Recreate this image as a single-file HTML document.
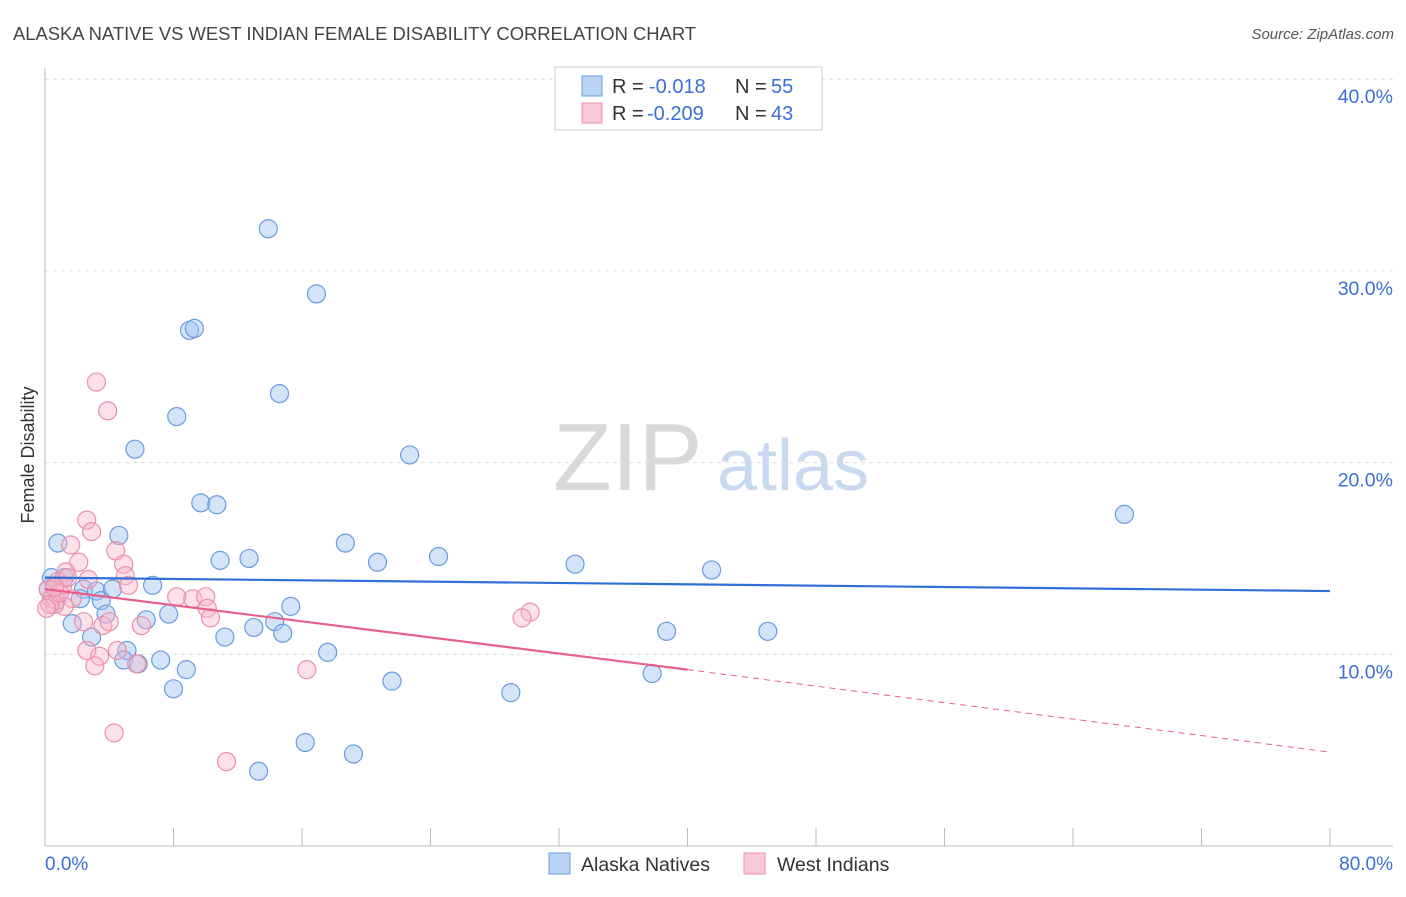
<!DOCTYPE html>
<html><head><meta charset="utf-8"><style>
body{margin:0;background:#fff;font-family:"Liberation Sans",sans-serif;}
svg text{font-family:"Liberation Sans",sans-serif;}
</style></head><body>
<svg id="chart" width="1406" height="892" xmlns="http://www.w3.org/2000/svg">
<text x="13" y="40" font-size="18.4" fill="#444">ALASKA NATIVE VS WEST INDIAN FEMALE DISABILITY CORRELATION CHART</text>
<text x="1394" y="39" font-size="15" fill="#555" font-style="italic" text-anchor="end">Source: ZipAtlas.com</text>
<g>
<text x="553" y="490" font-size="96" fill="#d9d9d9" font-family="Liberation Serif, serif">ZIP</text>
<text x="717" y="490" font-size="72" fill="#c9d9f0">atlas</text>
</g>
<g id="grid"></g>
<g id="axes"></g>
<g id="points"></g>
<g id="trends"></g>
<text transform="translate(34,455) rotate(-90)" font-size="18" fill="#333" text-anchor="middle">Female Disability</text>
<g>
<rect x="555" y="67" width="267" height="63" fill="#fff" stroke="#ccc"/>
<rect x="582" y="76" width="20" height="20" fill="#b8d3f5" stroke="#6a9be0"/>
<text x="612" y="93" font-size="20" fill="#333">R =</text>
<text x="649" y="93" font-size="20" fill="#3a6fd8">-0.018</text>
<text x="735" y="93" font-size="20" fill="#333">N =</text>
<text x="771" y="93" font-size="20" fill="#3a6fd8">55</text>
<rect x="582" y="103" width="20" height="20" fill="#fac8d6" stroke="#ec8faa"/>
<text x="612" y="120" font-size="20" fill="#333">R =</text>
<text x="647" y="120" font-size="20" fill="#3a6fd8">-0.209</text>
<text x="735" y="120" font-size="20" fill="#333">N =</text>
<text x="771" y="120" font-size="20" fill="#3a6fd8">43</text>
</g>
<g>
<rect x="549" y="853" width="21" height="21" fill="#b8d3f5" stroke="#6a9be0"/>
<text x="581" y="871" font-size="19.5" fill="#333">Alaska Natives</text>
<rect x="744" y="853" width="21" height="21" fill="#fac8d6" stroke="#ec8faa"/>
<text x="777" y="871" font-size="19.5" fill="#333">West Indians</text>
</g>
</svg>
<script>
const yTicks=[10,20,30,40];
const yTickLabels=["10.0%","20.0%","30.0%","40.0%"];
const xTicks=[0,8,16,24,32,40,48,56,64,72,80];
const blueX=[13.9,16.9,9.0,9.3,14.6,8.2,5.6,22.7,67.2,9.7,10.7,0.8,4.6,18.7,10.9,12.7,20.7,24.5,33.0,41.5,0.4,1.2,6.7,2.4,3.2,4.2,2.2,3.5,15.3,7.7,3.8,6.3,14.3,1.7,13.0,14.8,11.2,2.9,38.7,45.0,5.1,17.6,7.2,4.9,5.8,8.8,37.8,21.6,8.0,29.0,16.2,19.2,13.3,0.2,0.7];
const blueY=[32.2,28.8,26.9,27.0,23.6,22.4,20.7,20.4,17.3,17.9,17.8,15.8,16.2,15.8,14.9,15.0,14.8,15.1,14.7,14.4,14.0,14.0,13.6,13.4,13.3,13.4,12.9,12.8,12.5,12.1,12.1,11.8,11.7,11.6,11.4,11.1,10.9,10.9,11.2,11.2,10.2,10.1,9.7,9.7,9.5,9.2,9.0,8.6,8.2,8.0,5.4,4.8,3.9,13.4,12.8];
const pinkX=[3.2,3.9,2.6,2.9,1.6,4.4,2.1,4.9,1.3,5.0,2.7,0.8,5.2,1.1,0.2,0.4,1.7,8.2,9.2,10.0,10.1,10.3,1.2,0.6,0.3,30.2,29.7,2.4,6.0,3.6,4.0,4.5,2.6,3.4,3.1,5.7,16.3,4.3,11.3,0.1,0.9,1.4,0.6];
const pinkY=[24.2,22.7,17.0,16.4,15.7,15.4,14.8,14.7,14.3,14.1,13.9,13.8,13.6,13.6,13.4,12.9,12.9,13.0,12.9,13.0,12.4,11.9,12.5,12.6,12.6,12.2,11.9,11.7,11.5,11.5,11.7,10.2,10.2,9.9,9.4,9.5,9.2,5.9,4.4,12.4,13.2,14.0,13.5];
const blueTrendX=[0,80], blueTrendY=[14.0,13.3];
const pinkTrendX=[0,40,80], pinkTrendY=[13.4,9.2,4.9];

const NS="http://www.w3.org/2000/svg";
const sx=v=>45+v*(1330-45)/80;
const sy=v=>846-v*19.17;
function mk(tag,attrs,parent){const e=document.createElementNS(NS,tag);for(const k in attrs)e.setAttribute(k,attrs[k]);document.getElementById(parent).appendChild(e);return e;}
yTicks.forEach((t,i)=>{
  const l=mk('line',{x1:45,x2:1393,y1:sy(t),y2:sy(t),stroke:'#ddd','stroke-dasharray':'4,4'},'grid');
  
  
  const tx=mk('text',{x:1393,y:sy(t)+24,'font-size':19.5,fill:'#3a6fd8','text-anchor':'end'},'grid');
  tx.textContent=yTickLabels[i];
  
  
});
let a=mk('line',{x1:45,x2:45,y1:68,y2:846,stroke:'#bbb'},'axes');


a=mk('line',{x1:45,x2:1393,y1:846,y2:846,stroke:'#bbb'},'axes');


xTicks.forEach(t=>{
  const l=mk('line',{x1:sx(t),x2:sx(t),y1:828,y2:846,stroke:'#bbb'},'axes');
  
  
});
let t0=mk('text',{x:45,y:870,'font-size':19,fill:'#3a6fd8'},'axes');t0.textContent='0.0%';


let t1=mk('text',{x:1393,y:870,'font-size':19,fill:'#3a6fd8','text-anchor':'end'},'axes');t1.textContent='80.0%';


blueX.forEach((x,i)=>{
  const c=mk('circle',{cx:sx(x),cy:sy(blueY[i]),r:9,fill:'rgba(160,195,240,0.45)',stroke:'#6a9be0','stroke-width':1.2},'points');
  
  
});
pinkX.forEach((x,i)=>{
  const c=mk('circle',{cx:sx(x),cy:sy(pinkY[i]),r:9,fill:'rgba(248,180,200,0.4)',stroke:'#ec8faa','stroke-width':1.2},'points');
  
  
});
let bl=mk('line',{x1:sx(blueTrendX[0]),y1:sy(blueTrendY[0]),x2:sx(blueTrendX[1]),y2:sy(blueTrendY[1]),stroke:'#2f6fd6','stroke-width':2.2},'trends');


let pl=mk('line',{x1:sx(pinkTrendX[0]),y1:sy(pinkTrendY[0]),x2:sx(pinkTrendX[1]),y2:sy(pinkTrendY[1]),stroke:'#e8608a','stroke-width':2.2},'trends');


let pd=mk('line',{x1:sx(pinkTrendX[1]),y1:sy(pinkTrendY[1]),x2:sx(pinkTrendX[2]),y2:sy(pinkTrendY[2]),stroke:'#e8608a','stroke-width':1,'stroke-dasharray':'6,5'},'trends');


</script>
</body></html>
